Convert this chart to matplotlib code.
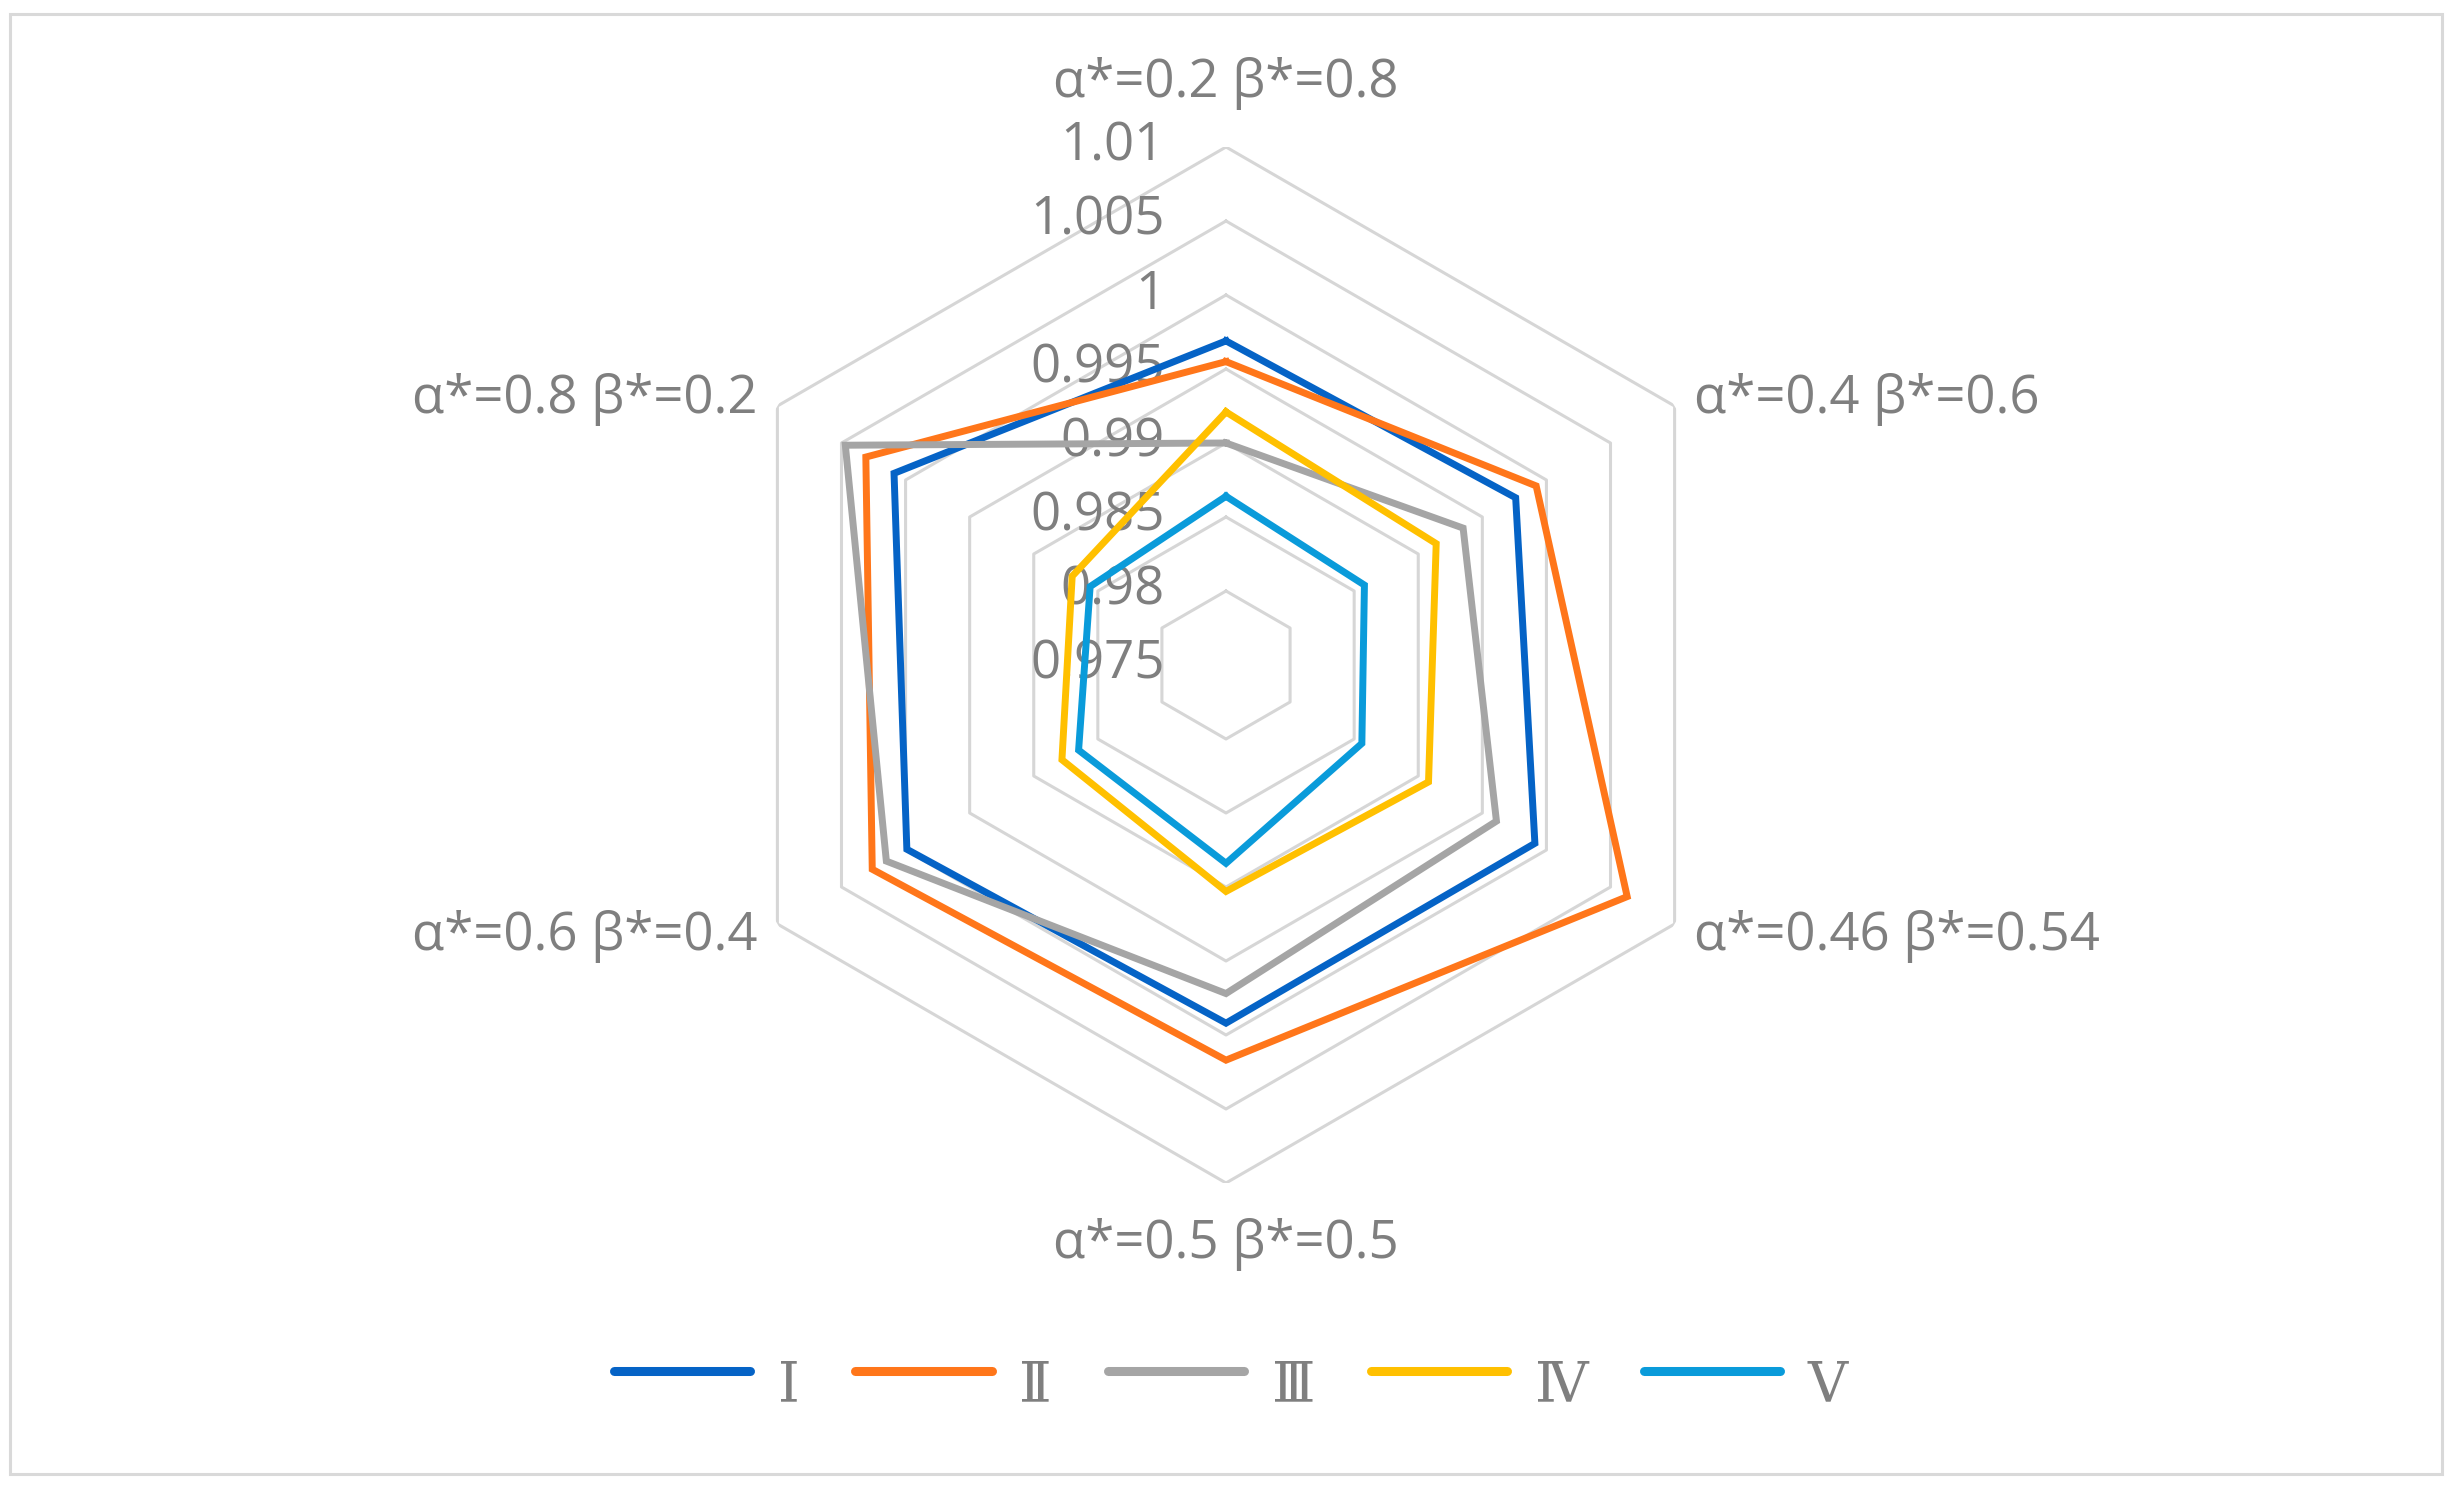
import numpy as np
import matplotlib
matplotlib.use("Agg")
import matplotlib.pyplot as plt
from matplotlib.patches import Rectangle

# axis categories, clockwise from the top
categories = ["α*=0.2 β*=0.8", "α*=0.4 β*=0.6", "α*=0.46 β*=0.54",
              "α*=0.5 β*=0.5", "α*=0.6 β*=0.4", "α*=0.8 β*=0.2"]

series_names = ["Ⅰ", "Ⅱ", "Ⅲ", "Ⅳ", "Ⅴ"]
s1 = [0.9969, 0.9976, 0.9991, 0.9992, 0.9999, 1.0009]
s2 = [0.9955, 0.9992, 1.0063, 1.0017, 1.0026, 1.0031]
s3 = [0.9900, 0.9935, 0.9961, 0.9972, 1.0015, 1.0047]
s4 = [0.9921, 0.9914, 0.9908, 0.9903, 0.9878, 0.9870]
s5 = [0.9864, 0.9858, 0.9856, 0.9884, 0.9865, 0.9856]
colors = ["#0563C6", "#FF761A", "#A5A5A5", "#FFC000", "#0A9BDA"]

r_ticks = [0.975, 0.98, 0.985, 0.99, 0.995, 1.0, 1.005, 1.01]
r_labels = ["0.975", "0.98", "0.985", "0.99", "0.995", "1", "1.005", "1.01"]
r_min, r_max = 0.975, 1.01

txt_color = "#7f7f7f"
font = "Open Sans"
fs = 38

W, H = 2459, 1494
fig = plt.figure(figsize=(W / 100, H / 100), dpi=100)

# light frame round the chart area
fig.patches.append(Rectangle((10 / W, 1 - 1474 / H), (2442 - 10) / W, (1474 - 14) / H,
                             transform=fig.transFigure, fill=False,
                             edgecolor="#d9d9d9", linewidth=2.2))

cx, cy, rad = 1226, 665, 518
ax = fig.add_axes([(cx - rad) / W, (H - cy - rad) / H, 2 * rad / W, 2 * rad / H],
                  projection="polar")
ax.set_theta_zero_location("N")
ax.set_theta_direction(-1)
ax.set_ylim(r_min, r_max)
ax.grid(False)
ax.set_xticks([])
ax.set_yticks([])
ax.spines["polar"].set_visible(False)

n = len(categories)
theta = np.arange(n) * 2 * np.pi / n
theta_c = np.append(theta, theta[0])

# hexagon gridlines
for rv in r_ticks[1:]:
    ax.plot(theta_c, [rv] * (n + 1), color="#d6d6d6", lw=2.2, zorder=1)

data = [s1, s2, s3, s4, s5]
for name, vals, c in zip(series_names, data, colors):
    ax.plot(theta_c, list(vals) + [vals[0]], color=c, lw=5, label=name,
            solid_joinstyle="miter", zorder=3)

# value labels along the top spoke
for rv, lab in zip(r_ticks, r_labels):
    ax.annotate(lab, xy=(0, rv), xytext=(-44, 0), textcoords="offset points",
                ha="right", va="center", fontsize=fs, color=txt_color,
                family=font, zorder=2)

# category labels
offsets = [((0, 46), "center", "center"), ((14, 5), "left", "center"),
           ((14, -9), "left", "center"), ((0, -44), "center", "center"),
           ((-14, -9), "right", "center"), ((-14, 5), "right", "center")]
for th, cat, (off, ha, va) in zip(theta, categories, offsets):
    ax.annotate(cat, xy=(th, r_max), xytext=off, textcoords="offset points",
                ha=ha, va=va, fontsize=fs, color=txt_color, family=font)

leg = fig.legend(loc="center", bbox_to_anchor=(1231 / W, 1 - 1386 / H), ncol=5,
                 frameon=False, handlelength=2.45, handletextpad=0.5,
                 columnspacing=1.0,
                 prop={"family": ["DejaVu Serif"], "size": 40})
for t in leg.get_texts():
    t.set_color(txt_color)
for h in leg.get_lines():
    h.set_linewidth(6.5)
    h.set_solid_capstyle("round")
    h.set_ydata(np.asarray(h.get_ydata()) + 8)

fig.savefig("out.png", dpi=100, facecolor="white")
